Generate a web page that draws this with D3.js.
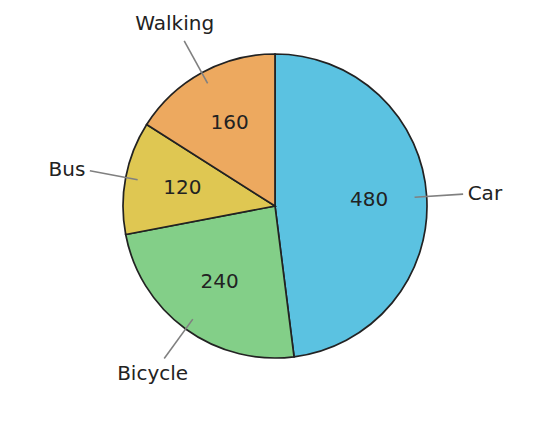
<!DOCTYPE html>
<html>
<head>
<meta charset="utf-8">
<script src="https://cdn.jsdelivr.net/npm/d3@7.9.0/dist/d3.min.js"></script>
<style>
  html, body { margin: 0; padding: 0; background: #fff; }
  svg text { font-family: "DejaVu Sans", sans-serif; fill: #222; }
</style>
</head>
<body>
<svg id="chart" width="550" height="439"></svg>
<script>
const categories = ["Car", "Bicycle", "Bus", "Walking"];
const values = [480, 240, 120, 160];
const colors = ["#5bc2e1", "#83cf88", "#dfc752", "#eda95f"];

const width = 550, height = 439;
const cx = 275, cy = 206, radius = 152;

const data = categories.map((c, i) => ({ label: c, value: values[i], color: colors[i] }));

const svg = d3.select("#chart");
const g = svg.append("g").attr("transform", `translate(${cx},${cy})`);

const pie = d3.pie().value(d => d.value).sort(null);
const arcs = pie(data);
const arc = d3.arc().innerRadius(0).outerRadius(radius);

g.selectAll("path.slice")
  .data(arcs)
  .enter()
  .append("path")
  .attr("class", "slice")
  .attr("d", arc)
  .attr("fill", d => d.data.color)
  .attr("stroke", "#222")
  .attr("stroke-width", 1.7);

// direction of a slice's middle
function dir(d) {
  const a = (d.startAngle + d.endAngle) / 2;
  return [Math.sin(a), -Math.cos(a)];
}

// value labels
g.selectAll("text.value")
  .data(arcs)
  .enter()
  .append("text")
  .attr("class", "value")
  .attr("x", d => dir(d)[0] * radius * 0.62)
  .attr("y", d => dir(d)[1] * radius * 0.62 - 1)
  .attr("text-anchor", "middle")
  .attr("dominant-baseline", "central")
  .style("font-size", "20px")
  .text(d => d.data.value);

// leader lines
g.selectAll("line.leader")
  .data(arcs)
  .enter()
  .append("line")
  .attr("class", "leader")
  .attr("x1", d => dir(d)[0] * radius * 0.92)
  .attr("y1", d => dir(d)[1] * radius * 0.92)
  .attr("x2", d => dir(d)[0] * radius * 1.24)
  .attr("y2", d => dir(d)[1] * radius * 1.24)
  .attr("stroke", "#808080")
  .attr("stroke-width", 1.6);

// category labels
g.selectAll("text.cat")
  .data(arcs)
  .enter()
  .append("text")
  .attr("class", "cat")
  .each(function (d) {
    const [dx, dy] = dir(d);
    const side = Math.abs(dx) > 0.9;
    const k = side ? 1.27 : 1.37;
    d3.select(this)
      .attr("x", dx * radius * k)
      .attr("y", dy * radius * k - 1)
      .attr("text-anchor", side ? (dx > 0 ? "start" : "end") : "middle");
  })
  .attr("dominant-baseline", "central")
  .style("font-size", "20px")
  .text(d => d.data.label);
</script>
</body>
</html>
